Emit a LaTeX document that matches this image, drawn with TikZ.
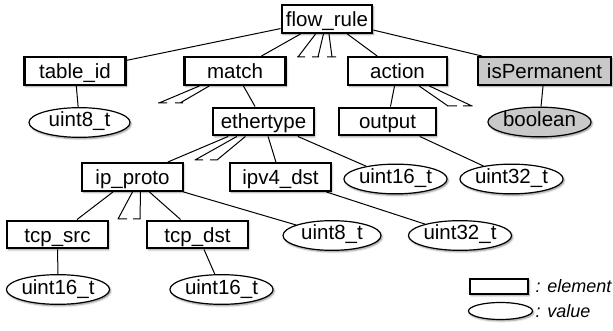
\documentclass[tikz,border=0pt]{standalone}
\usepackage{fontspec}
\setmainfont{Liberation Sans}
\usetikzlibrary{shapes.geometric,shadows.blur,backgrounds}

\tikzset{
  softshadow/.style={blur shadow={shadow xshift=1.2pt, shadow yshift=-1.5pt,
      shadow blur radius=1.8pt, shadow opacity=45}},
  element/.style={draw=black, line width=2.4pt, fill=white, rectangle,
      inner sep=0pt, minimum height=27.5pt, softshadow,
      font=\fontsize{20.5}{24}\selectfont, text height=15pt, text depth=0pt},
  value/.style={draw=black, line width=1.2pt, fill=white, ellipse,
      inner sep=0pt, minimum width=101pt, minimum height=24pt, softshadow,
      font=\fontsize{20.5}{24}\selectfont, text height=15pt, text depth=6pt},
  grayfill/.style={fill=black!21},
  link/.style={draw=black, line width=1pt},
  legendtext/.style={font=\fontsize{18}{20}\selectfont\itshape, inner sep=0pt, anchor=west},
}

\begin{document}
\begin{tikzpicture}[x=1pt,y=-1pt]
\useasboundingbox (0,0) rectangle (613,331);

% ---- elements ----
\node[element, minimum width=90.5pt] (flowrule) at (327,19) {flow\_rule};
\node[element, minimum width=101pt] (tableid) at (75,71) {table\_id};
\node[element, minimum width=101pt] (match) at (235,71) {match};
\node[element, minimum width=99pt] (action) at (397.5,71) {action};
\node[element, grayfill, minimum width=133pt] (isperm) at (544.5,71) {isPermanent};
\node[element, minimum width=100.5pt] (ethertype) at (263.5,121.5) {ethertype};
\node[element, minimum width=96.5pt] (output) at (387.5,121.5) {output};
\node[element, minimum width=100.5pt] (ipproto) at (132.5,177) {ip\_proto};
\node[element, minimum width=100.5pt] (ipvdst) at (280.5,177) {ipv4\_dst};
\node[element, minimum width=100.5pt] (tcpsrc) at (57.5,234.5) {tcp\_src};
\node[element, minimum width=100.5pt] (tcpdst) at (197.5,234.5) {tcp\_dst};

% ---- values ----
\node[value] (tableidval) at (79.5,122.5) {uint8\_t};
\node[value, grayfill, minimum height=29pt] (isprmval) at (539.5,122) {boolean};
\node[value, minimum height=22pt] (etherval) at (395.5,179) {uint16\_t};
\node[value, minimum height=22pt] (outputval) at (511.5,179) {uint32\_t};
\node[value, minimum width=98pt] (ipprotoval) at (332,235.5) {uint8\_t};
\node[value, minimum width=102pt] (ipvdstval) at (460,235.5) {uint32\_t};
\node[value, minimum width=100pt, minimum height=26pt] (tcpsrcval) at (58,289.5) {uint16\_t};
\node[value, minimum height=26pt] (tcpdstval) at (221.5,289.5) {uint16\_t};

% ---- legend ----
\node[element, minimum width=58pt, minimum height=15pt, text height=0pt] (legbox) at (499,286.5) {};
\node[legendtext] (legboxtxt) at (535.5,286) {: element};
\node[value, minimum width=64pt, minimum height=17pt, text height=0pt, text depth=0pt] (legell) at (500.5,311) {};
\node[legendtext] (legelltxt) at (535.5,311) {: value};

% ---- truncated branch end points ----
\coordinate (fa) at (298,57);
\coordinate (fb) at (318,57);
\coordinate (fc) at (332,57);
\coordinate (ma) at (159,103);
\coordinate (mb) at (180,103);
\coordinate (aa) at (448,106);
\coordinate (ab) at (472,106);
\coordinate (ea) at (195,160);
\coordinate (eb) at (217,160);
\coordinate (pa) at (118,219);
\coordinate (pb) at (140,219);

\begin{scope}[on background layer]
  % tree edges
  \draw[link] (flowrule) -- (tableid);
  \draw[link] (flowrule) -- (match);
  \draw[link] (flowrule) -- (action);
  \draw[link] (flowrule) -- (isperm);
  \draw[link] (tableid) -- (tableidval);
  \draw[link] (match) -- (ethertype);
  \draw[link] (action) -- (output);
  \draw[link] (isperm) -- (isprmval);
  \draw[link] (ethertype) -- (ipproto);
  \draw[link] (ethertype) -- (ipvdst);
  \draw[link] (ethertype) -- (etherval);
  \draw[link] (output) -- (outputval);
  \draw[link] (ipproto) -- (tcpsrc);
  \draw[link] (ipproto) -- (tcpdst);
  \draw[link] (ipproto) -- (ipprotoval);
  \draw[link] (ipvdst) -- (ipvdstval);
  \draw[link] (tcpsrc) -- (tcpsrcval);
  \draw[link] (tcpdst) -- (tcpdstval);

  % truncated branches, each closed by a short bar
  \draw[link] (flowrule) -- (fa) ([xshift=-1pt]fa) -- ([xshift=7pt]fa);
  \draw[link] (flowrule) -- (fb) ([xshift=-6pt]fb) -- ([xshift=1pt]fb);
  \draw[link] (flowrule) -- (fc) ([xshift=-5pt]fc) -- ([xshift=4pt]fc);
  \draw[link] (match) -- (ma) ([xshift=-1pt]ma) -- ([xshift=8pt]ma);
  \draw[link] (match) -- (mb) ([xshift=-5pt]mb) -- ([xshift=3pt]mb);
  \draw[link] (action) -- (aa) ([xshift=-1pt]aa) -- ([xshift=9pt]aa);
  \draw[link] (action) -- (ab) ([xshift=-9pt]ab) -- ([xshift=0.5pt]ab);
  \draw[link] (ethertype) -- (ea) ([xshift=-0.5pt]ea) -- ([xshift=8pt]ea);
  \draw[link] (ethertype) -- (eb) ([xshift=-7pt]eb) -- ([xshift=0.5pt]eb);
  \draw[link] (ipproto.south) -- (pa) ([xshift=-0.5pt]pa) -- ([xshift=9pt]pa);
  \draw[link] ([xshift=8pt]ipproto.south) -- (pb) ([xshift=-7pt]pb) -- ([xshift=0.5pt]pb);
\end{scope}
\end{tikzpicture}
\end{document}
